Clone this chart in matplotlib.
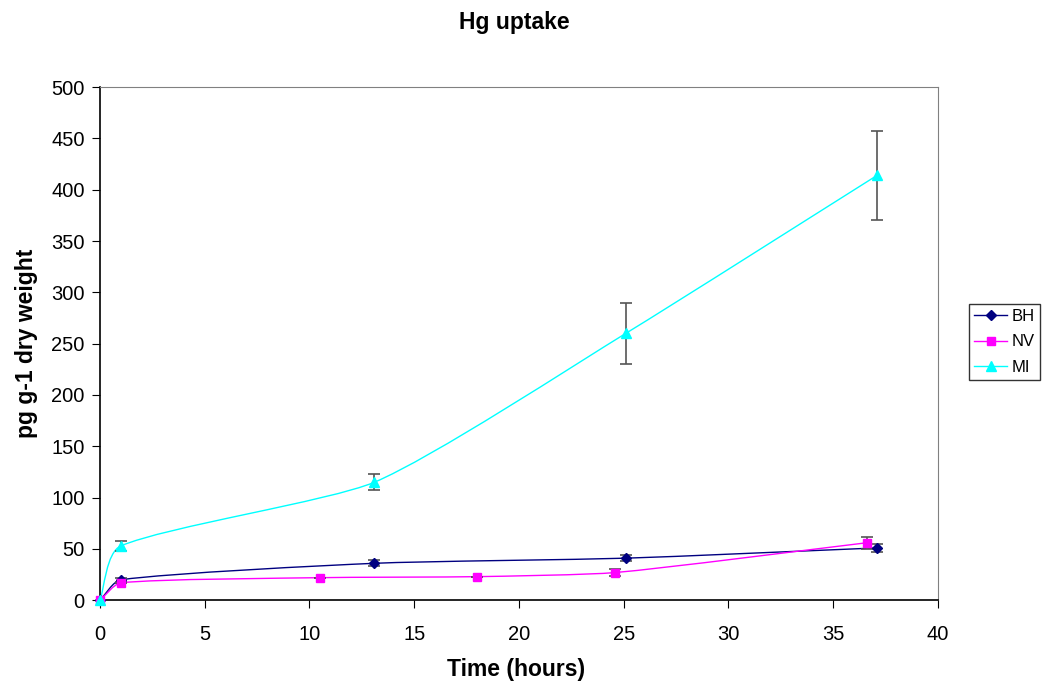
import matplotlib
matplotlib.use('Agg')
import matplotlib.pyplot as plt
from matplotlib.path import Path
from matplotlib.patches import PathPatch
import numpy as np

plt.rcParams['font.family'] = ['Liberation Sans', 'DejaVu Sans']

# data
bh_x = [0, 1, 13.1, 25.1, 37.1]
bh_y = [0, 20, 36, 41, 51]
bh_err = [0, 2, 3, 3, 4]

nv_x = [0, 1, 10.5, 18, 24.6, 36.6]
nv_y = [0, 17, 22, 23, 27, 56]
nv_err = [0, 0, 0, 0, 3, 6]

mi_x = [0, 1, 13.1, 25.1, 37.1]
mi_y = [0, 53, 115, 260, 414]
mi_err = [0, 5, 8, 30, 43]

series = [
    ("BH", bh_x, bh_y, bh_err, "#000080", "D", 5),
    ("NV", nv_x, nv_y, nv_err, "#FF00FF", "s", 6),
    ("MI", mi_x, mi_y, mi_err, "#00FFFF", "^", 7),
]

XMAX, YMAX = 40, 500


def smooth_path(xs, ys, s=0.2):
    # excel-like smoothed line: cubic bezier, tangents worked out in axis-normalised units
    pts = np.column_stack([np.asarray(xs) / XMAX, np.asarray(ys) / YMAX])
    n = len(pts)
    tang = []
    for i in range(n):
        d = pts[min(i + 1, n - 1)] - pts[max(i - 1, 0)]
        tang.append(d / np.hypot(*d))
    verts = [pts[0]]
    codes = [Path.MOVETO]
    for i in range(n - 1):
        p1, p2 = pts[i], pts[i + 1]
        L = np.hypot(*(p2 - p1))
        c1 = p1 + tang[i] * L * s
        c2 = p2 - tang[i + 1] * L * s
        c1[0] = min(c1[0], p2[0])
        c2[0] = max(c2[0], p1[0])
        verts += [c1, c2, p2]
        codes += [Path.CURVE4] * 3
    verts = np.array(verts) * [XMAX, YMAX]
    return Path(verts, codes)


fig = plt.figure(figsize=(10.42, 6.86), dpi=100)
ax = fig.add_axes([0.096, 0.125, 0.804, 0.748])

for name, xs, ys, err, col, mk, ms in series:
    ax.add_patch(PathPatch(smooth_path(xs, ys), fill=False, edgecolor=col, lw=1))
    ax.errorbar(xs, ys, yerr=err, fmt='none', ecolor='#555555', elinewidth=1.2,
                capsize=4, capthick=1.2, zorder=3)
    ax.plot(xs, ys, linestyle='none', marker=mk, color=col, markersize=ms, zorder=4,
            clip_on=False)
    ax.plot([], [], color=col, marker=mk, markersize=ms, lw=1, label=name)

ax.set_xlim(0, XMAX)
ax.set_ylim(0, YMAX)
ax.set_xticks(range(0, 41, 5))
ax.set_yticks(range(0, 501, 50))
ax.tick_params(labelsize=14.5, direction='out', length=6)
ax.tick_params(axis='x', pad=12)
ax.tick_params(axis='y', pad=5)
ax.spines['top'].set_color('#808080')
ax.spines['right'].set_color('#808080')
ax.spines['left'].set_linewidth(1.2)
ax.spines['bottom'].set_linewidth(1.2)

ax.set_xlabel("Time (hours)", fontsize=16.5, fontweight='bold')
ax.set_ylabel("pg g-1 dry weight", fontsize=16.5, fontweight='bold')
ax.xaxis.set_label_coords(0.497, -0.113)
ax.yaxis.set_label_coords(-0.074, 0.5)
fig.text(0.494, 0.967, "Hg uptake", ha='center', va='center', fontsize=16.5, fontweight='bold')

leg = fig.legend(loc='upper left', bbox_to_anchor=(969 / 1042, 1 - 304 / 686), fontsize=12,
                 frameon=True, fancybox=False, edgecolor='black', handlelength=2.0,
                 borderpad=0.3, labelspacing=0.62, handletextpad=0.25, borderaxespad=0)
leg.get_frame().set_linewidth(1)

fig.savefig("out.png", dpi=100)
plt.close()
